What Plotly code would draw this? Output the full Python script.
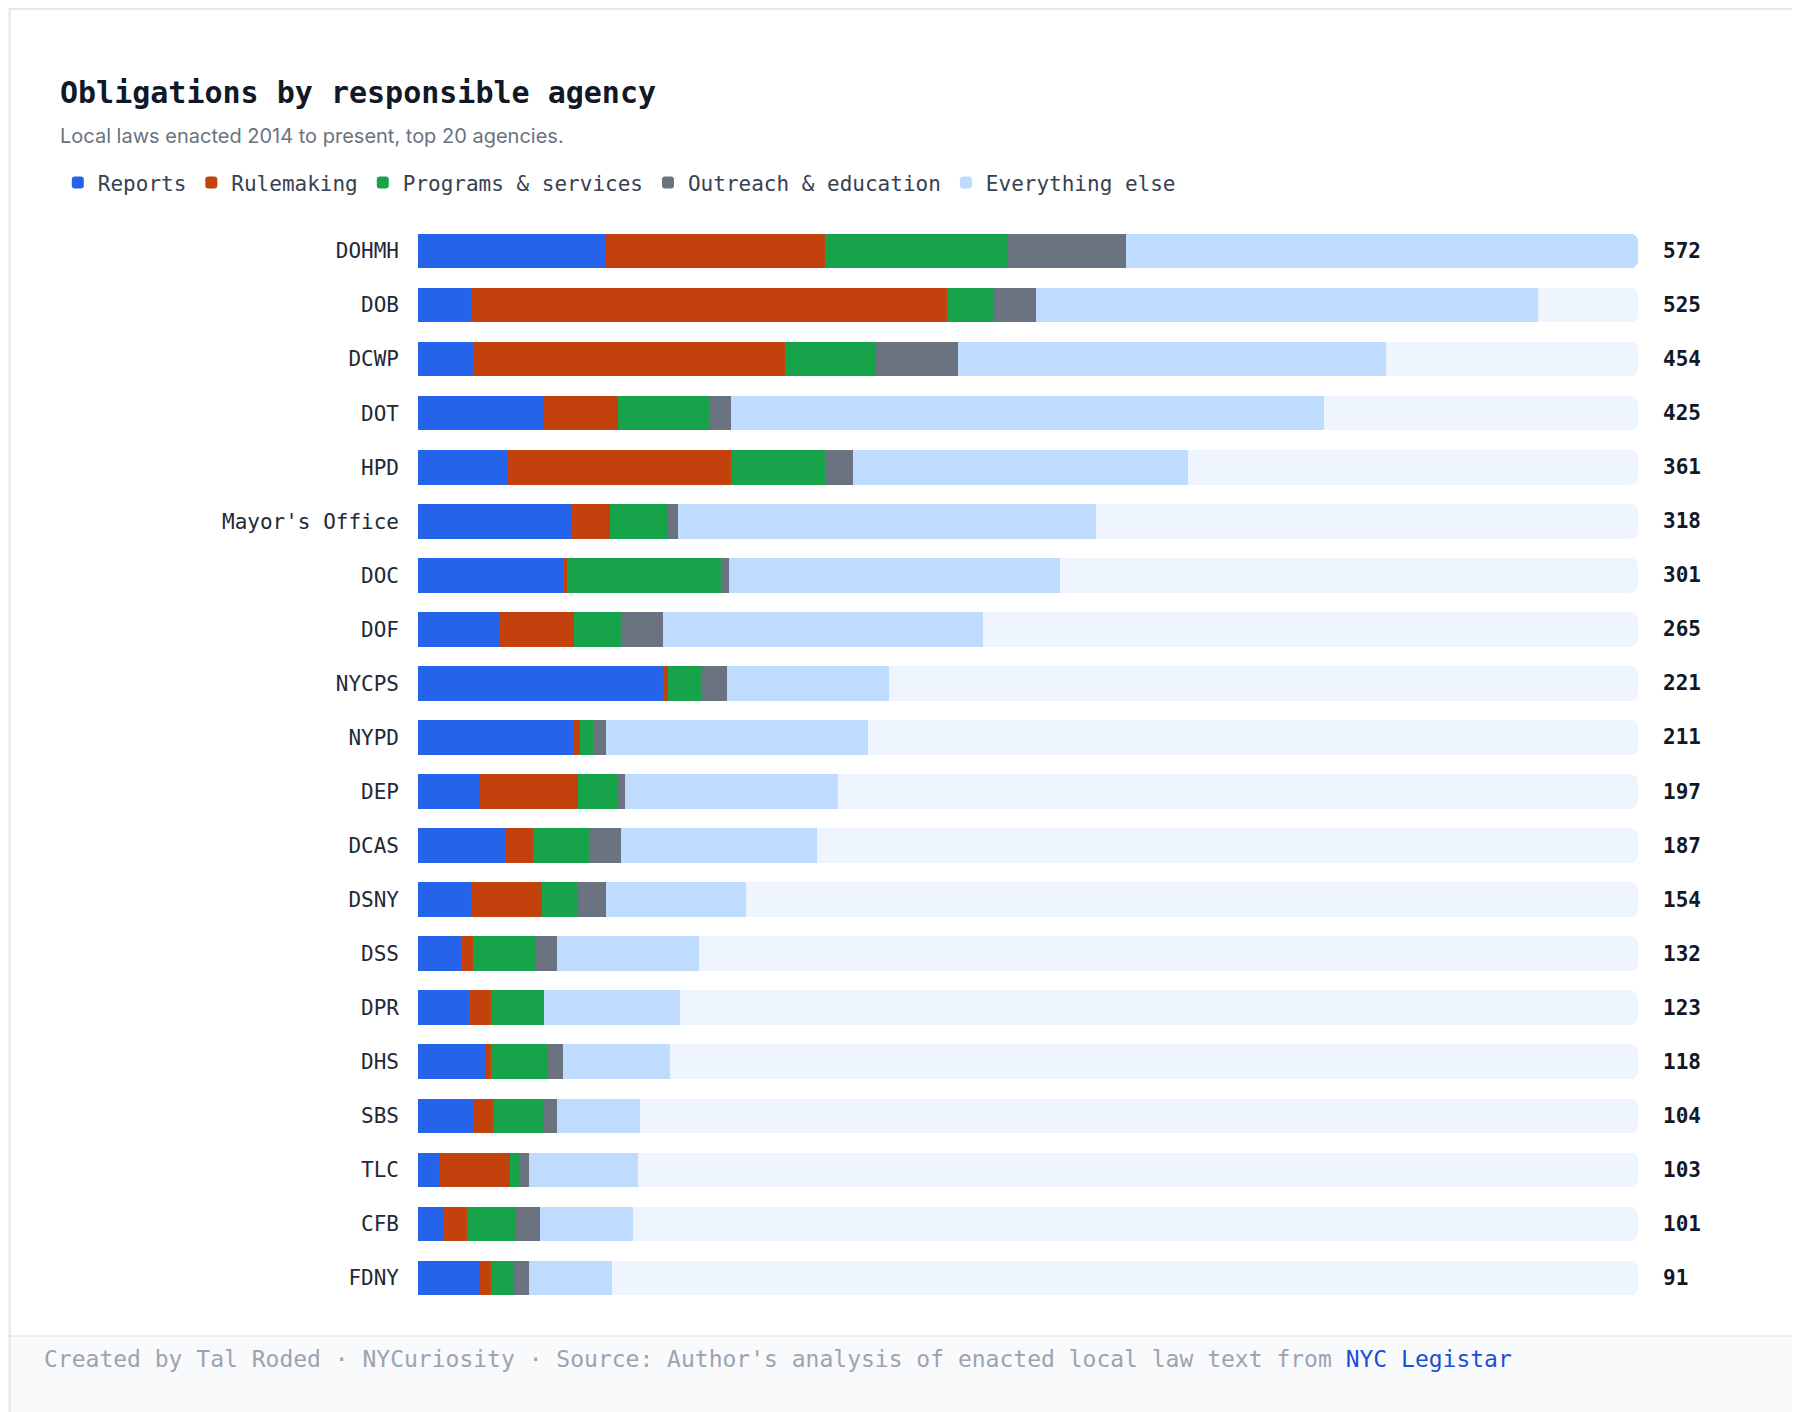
import plotly.graph_objects as go

agencies = ["DOHMH", "DOB", "DCWP", "DOT", "HPD", "Mayor's Office", "DOC", "DOF", "NYCPS", "NYPD",
            "DEP", "DCAS", "DSNY", "DSS", "DPR", "DHS", "SBS", "TLC", "CFB", "FDNY"]
reports = [88, 25, 26, 59, 42, 72, 68, 38, 115, 73, 29, 41, 25, 20, 24, 32, 26, 10, 12, 29]
rulemaking = [103, 223, 146, 35, 105, 18, 2, 35, 2, 3, 46, 13, 33, 6, 10, 2, 9, 33, 11, 5]
programs = [85, 22, 43, 43, 44, 27, 72, 22, 16, 6, 19, 26, 17, 29, 25, 27, 24, 5, 23, 11]
outreach = [56, 20, 38, 10, 13, 5, 4, 20, 12, 6, 3, 15, 13, 10, 0, 7, 6, 4, 11, 7]
everything_else = [240, 235, 201, 278, 157, 196, 155, 150, 76, 123, 100, 92, 66, 67, 64, 50, 39, 51, 44, 39]

series = [
    ("Reports", reports, "#2563eb"),
    ("Rulemaking", rulemaking, "#c2410c"),
    ("Programs & services", programs, "#16a34a"),
    ("Outreach & education", outreach, "#6b7280"),
    ("Everything else", everything_else, "#bfdbfe"),
]

totals = [sum(v) for v in zip(reports, rulemaking, programs, outreach, everything_else)]
max_total = max(totals)
track = [max_total - t for t in totals]

mono = "DejaVu Sans Mono"
fig = go.Figure()
for name, vals, color in series:
    fig.add_trace(go.Bar(y=agencies, x=vals, name=name, orientation="h",
                         marker=dict(color=color, line=dict(width=0)), hoverinfo="skip"))
fig.add_trace(go.Bar(y=agencies, x=track, orientation="h", showlegend=False,
                     marker=dict(color="#eff5ff", line=dict(width=0)), hoverinfo="skip"))

for a, t in zip(agencies, totals):
    fig.add_annotation(x=1.018, xref="paper", y=a, yref="y", text=f"<b>{t}</b>", showarrow=False,
                       xanchor="left", font=dict(family=mono, size=21, color="#111827"))

# footer band and card frame
fig.add_shape(type="rect", xref="paper", yref="paper", x0=-0.336, x1=1.138, y0=-0.106, y1=-0.0287,
              fillcolor="#f8fafc", line=dict(width=0), layer="below")
fig.add_shape(type="line", xref="paper", yref="paper", x0=-0.336, x1=1.138, y0=-0.0287, y1=-0.0287,
              line=dict(color="#e5e7eb", width=1.5))
fig.add_shape(type="rect", xref="paper", yref="paper", x0=-0.3345, x1=1.1365, y0=-0.105, y1=1.199,
              line=dict(color="#e5e7eb", width=2))

fig.add_annotation(x=-0.295, y=1.14, xref="paper", yref="paper", xanchor="left", showarrow=False,
                   text="<b>Obligations by responsible agency</b>",
                   font=dict(family=mono, size=30, color="#111827"))
fig.add_annotation(x=-0.295, y=1.094, xref="paper", yref="paper", xanchor="left", showarrow=False,
                   text="Local laws enacted 2014 to present, top 20 agencies.",
                   font=dict(family="Inter", size=20, color="#6b7280"))
fig.add_annotation(x=-0.308, y=-0.0638, xref="paper", yref="paper", xanchor="left", showarrow=False,
                   text="Created by Tal Roded · NYCuriosity · Source: Author's analysis of enacted local law text from "
                        "<span style='color:#1d4ed8'>NYC Legistar</span>",
                   font=dict(family=mono, size=23, color="#9ca3af"))

fig.update_layout(
    width=1800, height=1412,
    barmode="stack", bargap=0.36, barcornerradius=7,
    margin=dict(l=410, r=169, t=216, b=115),
    paper_bgcolor="white", plot_bgcolor="white",
    legend=dict(orientation="h", x=-0.295, y=1.038, xanchor="left", yanchor="middle",
                font=dict(family=mono, size=21, color="#374151"), itemwidth=30, traceorder="normal"),
    xaxis=dict(visible=False, range=[0, max_total * 1.001]),
    yaxis=dict(autorange="reversed", showgrid=False, ticks="", ticklabelstandoff=18,
               tickfont=dict(family=mono, size=21, color="#1f2937")),
)

fig.write_html("out.html")
